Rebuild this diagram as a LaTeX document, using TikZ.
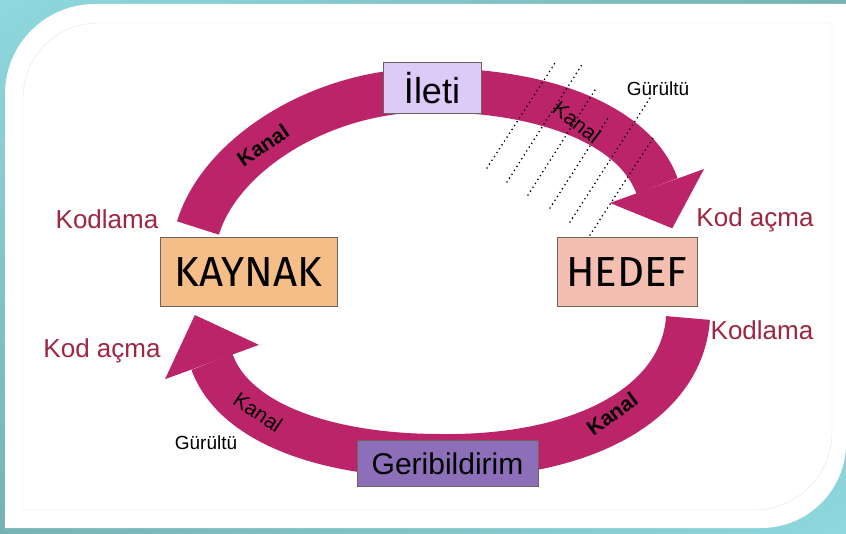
\documentclass[tikz,border=0pt]{standalone}
\usepackage{fontspec}
\setmainfont{Liberation Sans}
\newfontfamily\boxfont{Fira Sans}
\usetikzlibrary{calc,shadings}
\definecolor{tealhi}{RGB}{142,216,222}
\definecolor{tealmid}{RGB}{118,178,180}
\definecolor{cardline}{RGB}{228,230,230}
\definecolor{bandpink}{RGB}{188,36,106}
\definecolor{codered}{RGB}{158,38,66}
\definecolor{edgegrey}{RGB}{110,100,95}
\definecolor{iletifill}{RGB}{220,202,248}
\definecolor{kaynakfill}{RGB}{245,190,136}
\definecolor{hedeffill}{RGB}{244,190,176}
\definecolor{gerifill}{RGB}{140,110,185}
\begin{document}
\begin{tikzpicture}[x=1pt,y=-1pt,
    band/.style={line width=44pt,draw=bandpink},
    stage/.style={draw=edgegrey,line width=1pt,inner sep=0pt},
    coding/.style={text=codered,font=\fontsize{26}{30}\selectfont},
    noise/.style={font=\fontsize{19}{22}\selectfont},
    channel/.style={font=\fontsize{21}{24}\selectfont},
    channelbold/.style={font=\fontsize{21}{24}\bfseries\selectfont},
    noisedots/.style={line width=1.8pt,line cap=round,dash pattern=on 0pt off 4.6pt}]
  \useasboundingbox (0,0) rectangle (846,534);
  % frame
  \shade[upper left=tealhi,upper right=tealmid,lower left=tealmid,lower right=tealhi] (0,0) rectangle (846,534);
  \fill[white] (5,528) -- (5,94) .. controls (5,44.3) and (45.3,4) .. (95,4) -- (846,4) -- (846,443)
    .. controls (846,490) and (808,528) .. (761,528) -- cycle;
  \draw[cardline] (23,510) -- (23,98) .. controls (23,56.6) and (56.6,23) .. (98,23) -- (832,23) -- (832,432)
    .. controls (832,475) and (797,510) .. (754,510) -- cycle;
  % upper band
  \coordinate (up0) at (198,228);
  \coordinate (up1) at (430,90);
  \coordinate (upc) at (635,125);
  \coordinate (upE) at (657,186);
  \coordinate (upT) at ($(upE)!-45pt!(upc)$);
  \draw[band] (up0) .. controls (220,155) and (320,90) .. (up1) .. controls (545,90) and (upc) .. (upE);
  \fill[bandpink] ($(upE)!50pt!90:(upT)$) -- (upT) -- ($(upE)!50pt!-90:(upT)$) -- cycle;
  % lower band
  \coordinate (lo0) at (688,318);
  \coordinate (lo1) at (440,456);
  \coordinate (loc) at (235,425);
  \coordinate (loE) at (212,362);
  \coordinate (loT) at ($(loE)!-50pt!(loc)$);
  \draw[band] (lo0) .. controls (682,405) and (580,458) .. (lo1) .. controls (330,456) and (loc) .. (loE);
  \fill[bandpink] ($(loE)!50pt!90:(loT)$) -- (loT) -- ($(loE)!50pt!-90:(loT)$) -- cycle;
  % boxes
  \node[stage,fill=iletifill,minimum width=98pt,minimum height=51pt,font=\fontsize{36}{40}\selectfont] (ileti) at (432,88.5) {İleti};
  \node[stage,fill=kaynakfill,minimum width=177pt,minimum height=69pt,font=\boxfont\fontsize{42}{46}\selectfont] (kaynak) at (248.5,272.5) {KAYNAK};
  \node[stage,fill=hedeffill,minimum width=140pt,minimum height=69pt,font=\boxfont\fontsize{42}{46}\selectfont] (hedef) at (627,272.5) {HEDEF};
  \node[stage,fill=gerifill,minimum width=181pt,minimum height=46pt,font=\fontsize{30}{34}\selectfont] (geri) at (447.5,463.5) {Geribildirim};
  % noise
  \foreach \xa/\ya/\xb/\yb in {487/168/557/60,507/182/583/63,528/195/595/90,550/208/608/118,570/222/650/98,590/235/655/135}
    \draw[noisedots] (\xa,\ya) -- (\xb,\yb);
  % labels
  \node[coding] (kod1) at (107,219) {Kodlama};
  \node[coding] (acma1) at (755,220) {Kod açma};
  \node[coding] (kod2) at (762,330) {Kodlama};
  \node[coding] (acma2) at (102,351) {Kod açma};
  \node[noise] (gur1) at (658,89) {Gürültü};
  \node[noise] (gur2) at (206,443) {Gürültü};
  \node[channelbold,rotate=34] (kanal1) at (263,145) {Kanal};
  \node[channel,rotate=-38] (kanal2) at (577,122) {Kanal};
  \node[channel,rotate=-34] (kanal3) at (258,412) {Kanal};
  \node[channelbold,rotate=36] (kanal4) at (612,414) {Kanal};
\end{tikzpicture}
\end{document}
